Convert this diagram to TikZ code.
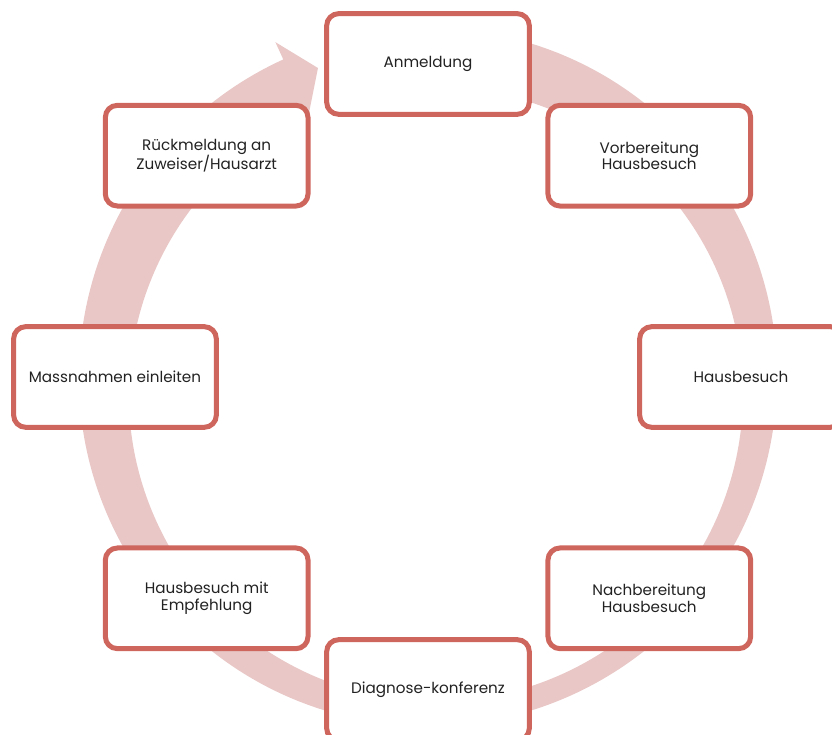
\documentclass[tikz,border=0pt]{standalone}
\usepackage{fontspec}
\setmainfont{Poppins}
\usepackage{tikz}
\usetikzlibrary{positioning}
\definecolor{stepred}{RGB}{207,102,94}
\definecolor{ringpink}{RGB}{232,199,198}
\definecolor{steptext}{RGB}{34,34,34}

\begin{document}
\begin{tikzpicture}[x=0.75pt, y=0.75pt,
    stepbox/.style={draw=stepred, fill=white, line width=3.75pt, rounded corners=9pt,
        minimum width=152pt, minimum height=75.5pt, align=center,
        text=steptext, font=\fontsize{11.4}{12.3}\selectfont}]
    \useasboundingbox (-428,-358) rectangle (404,377);
    % ring arrow behind the boxes
    \fill[ringpink] (80:349) arc[start angle=80, end angle=-245.5, radius=349]
        -- (-245.5:368) -- (-250.4:328) -- (-245.5:288)
        arc[start angle=-245.5, end angle=80, radius=307] -- cycle;
    % steps
    \node[stepbox] (anmeldung) at (90:313) {Anmeldung};
    \node[stepbox] (vorbereitung) at (45:313) {Vorbereitung\\Hausbesuch};
    \node[stepbox] (hausbesuch) at (0:313) {Hausbesuch};
    \node[stepbox] (nachbereitung) at (-45:313) {Nachbereitung\\Hausbesuch};
    \node[stepbox] (konferenz) at (-90:313) {Diagnose-konferenz};
    \node[stepbox] (empfehlung) at (-135:313) {Hausbesuch mit\\Empfehlung};
    \node[stepbox] (massnahmen) at (180:313) {Massnahmen einleiten};
    \node[stepbox] (rueckmeldung) at (135:313) {Rückmeldung an\\Zuweiser/Hausarzt};
\end{tikzpicture}
\end{document}
